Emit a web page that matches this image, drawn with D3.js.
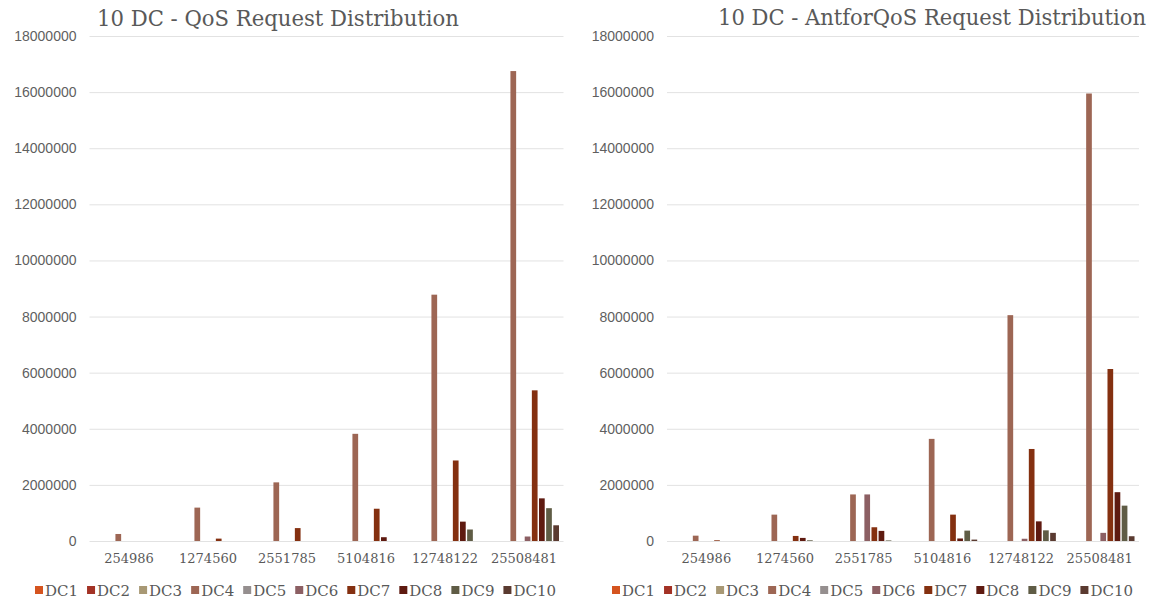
<!DOCTYPE html>
<html>
<head>
<meta charset="utf-8">
<script src="https://cdn.jsdelivr.net/npm/d3@7"></script>
<style>
  body { margin: 0; background: #fff; }
  svg { display: block; }
  .tick line { stroke: #e2e2e2; }
  .yaxis text { font-family: "Liberation Sans", Arial, sans-serif; font-size: 14px; fill: #5f5f5f; }
  .xaxis text { font-family: "DejaVu Serif", serif; font-size: 13px; fill: #595959; }
  .title { font-family: "DejaVu Serif Condensed", "DejaVu Serif", serif; font-stretch: condensed; font-size: 23px; fill: #595959; }
  .legend text { font-family: "DejaVu Serif", serif; font-size: 15px; fill: #595959; }
</style>
</head>
<body>
<svg id="chart"></svg>
<script>
const categories = ["254986", "1274560", "2551785", "5104816", "12748122", "25508481"];
const series = ["DC1", "DC2", "DC3", "DC4", "DC5", "DC6", "DC7", "DC8", "DC9", "DC10"];
const colors = ["#d5541f", "#a33225", "#a89874", "#9d6654", "#958f8f", "#8c5f63", "#843010", "#5e1a10", "#5f5c45", "#5a3a30"];
const yTicks = [0, 2000000, 4000000, 6000000, 8000000, 10000000, 12000000, 14000000, 16000000, 18000000];

// one row per category, one value per DC
const qosValues = [
  [0, 0, 0, 250000, 0, 0, 0, 0, 0, 0],
  [0, 0, 0, 1190000, 0, 0, 85000, 0, 0, 0],
  [0, 0, 0, 2090000, 0, 0, 460000, 0, 0, 0],
  [0, 0, 0, 3820000, 0, 0, 1150000, 135000, 0, 0],
  [0, 0, 0, 8780000, 0, 0, 2870000, 690000, 410000, 0],
  [0, 0, 0, 16750000, 0, 160000, 5370000, 1520000, 1170000, 560000]
];
const antValues = [
  [0, 0, 0, 190000, 0, 0, 25000, 0, 0, 0],
  [0, 0, 0, 940000, 0, 0, 180000, 110000, 25000, 0],
  [0, 0, 0, 1660000, 0, 1660000, 490000, 360000, 20000, 0],
  [0, 0, 0, 3640000, 0, 0, 940000, 90000, 370000, 50000],
  [0, 0, 0, 8050000, 0, 80000, 3280000, 700000, 380000, 290000],
  [0, 0, 0, 15950000, 0, 290000, 6130000, 1740000, 1260000, 170000]
];

const W = 1162, H = 602;
const svg = d3.select("#chart").attr("width", W).attr("height", H);
svg.append("rect").attr("width", W).attr("height", H).attr("fill", "#fff");

const panels = [
  { title: "10 DC - QoS Request Distribution", values: qosValues,
    left: 89.5, right: 563.5, top: 36, bottom: 541, titleX: 97, titleY: 26, titleW: 362, legendX: 35 },
  { title: "10 DC - AntforQoS Request Distribution", values: antValues,
    left: 667, right: 1139, top: 36, bottom: 541, titleX: 718, titleY: 25, titleW: 428, legendX: 612 }
];

panels.forEach(p => {
  const y = d3.scaleLinear().domain([0, 18000000]).range([p.bottom, p.top]);
  const x0 = d3.scaleBand().domain(categories).range([p.left, p.right])
    .paddingInner(0.114).paddingOuter(0.057);
  const x1 = d3.scaleBand().domain(series).range([0, x0.bandwidth()]).paddingInner(0.2);

  const g = svg.append("g");

  g.append("g").attr("class", "yaxis")
    .attr("transform", `translate(${p.left},0)`)
    .call(d3.axisLeft(y).tickValues(yTicks).tickFormat(d3.format("d"))
      .tickSize(-(p.right - p.left)).tickPadding(13))
    .call(a => a.select(".domain").remove());

  g.append("g").attr("class", "xaxis")
    .attr("transform", `translate(0,${p.bottom})`)
    .call(d3.axisBottom(x0).tickSize(0).tickPadding(13))
    .call(a => a.select(".domain").remove());

  const groups = g.append("g").selectAll("g")
    .data(p.values.map((row, i) => ({ cat: categories[i], row })))
    .join("g")
    .attr("transform", d => `translate(${x0(d.cat)},0)`);

  groups.selectAll("rect")
    .data(d => d.row.map((v, j) => ({ key: series[j], value: v, color: colors[j] })).filter(e => e.value > 0))
    .join("rect")
    .attr("x", d => x1(d.key))
    .attr("width", x1.bandwidth())
    .attr("y", d => y(d.value))
    .attr("height", d => y(0) - y(d.value))
    .attr("fill", d => d.color);

  svg.append("text").attr("class", "title")
    .attr("x", p.titleX).attr("y", p.titleY)
    .attr("textLength", p.titleW).attr("lengthAdjust", "spacingAndGlyphs")
    .text(p.title);

  // legend laid out left to right by measured text width
  const lg = svg.append("g").attr("class", "legend");
  let lx = p.legendX;
  series.forEach((s, j) => {
    lg.append("rect").attr("x", lx).attr("y", 586).attr("width", 8).attr("height", 8).attr("fill", colors[j]);
    const t = lg.append("text").attr("x", lx + 10).attr("y", 595.5).text(s);
    lx += 10 + t.node().getComputedTextLength() + 9;
  });
});
</script>
</body>
</html>
